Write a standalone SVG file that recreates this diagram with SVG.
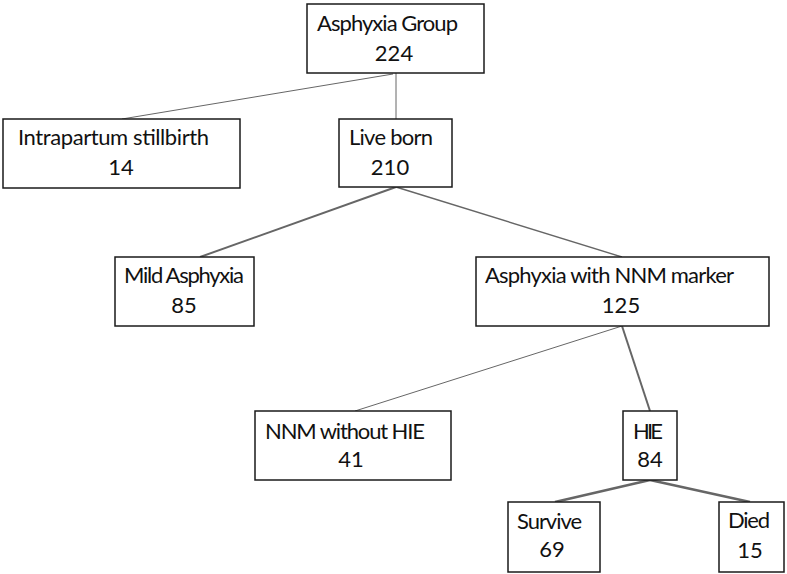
<svg xmlns="http://www.w3.org/2000/svg" width="787" height="574" viewBox="0 0 787 574">
<style>
.box{fill:#ffffff;stroke:#1a1a1a;stroke-width:1.5}
.t{font-family:Lato,"Liberation Sans",sans-serif;font-size:22px;fill:#111}
.c{text-anchor:middle}
.ln{stroke:#666;fill:none}
</style>
<rect width="787" height="574" fill="#ffffff"/>
<g id="connectors">
<line class="ln" x1="393" y1="74" x2="122" y2="119" stroke-width="1"/>
<line class="ln" x1="396" y1="73" x2="396" y2="119" stroke-width="1" stroke="#999"/>
<line class="ln" x1="396" y1="187" x2="200" y2="257" stroke-width="2"/>
<line class="ln" x1="396" y1="187" x2="622" y2="257" stroke-width="1.4"/>
<line class="ln" x1="622" y1="326" x2="355" y2="411" stroke-width="1"/>
<line class="ln" x1="622" y1="326" x2="650" y2="411" stroke-width="2"/>
<line class="ln" x1="650" y1="480" x2="555" y2="502" stroke-width="2.5"/>
<line class="ln" x1="650" y1="480" x2="750" y2="502" stroke-width="2.5"/>
</g>
<g id="asphyxia-group">
<rect class="box" x="307" y="4" width="177" height="69"/>
<text class="t" x="317" y="31" textLength="141">Asphyxia Group</text>
<text class="t c" x="394" y="61">224</text>
</g>
<g id="intrapartum-stillbirth">
<rect class="box" x="3" y="119" width="237" height="69"/>
<text class="t" x="18" y="145" textLength="191">Intrapartum stillbirth</text>
<text class="t c" x="121" y="175">14</text>
</g>
<g id="live-born">
<rect class="box" x="339" y="119" width="113" height="68"/>
<text class="t" x="349" y="145" textLength="84">Live born</text>
<text class="t c" x="390" y="175">210</text>
</g>
<g id="mild-asphyxia">
<rect class="box" x="115" y="257" width="139" height="69"/>
<text class="t" x="124" y="283" textLength="120">Mild Asphyxia</text>
<text class="t c" x="184" y="313">85</text>
</g>
<g id="asphyxia-nnm">
<rect class="box" x="476" y="257" width="293" height="69"/>
<text class="t" x="485" y="283" textLength="249">Asphyxia with NNM marker</text>
<text class="t c" x="621" y="313">125</text>
</g>
<g id="nnm-without-hie">
<rect class="box" x="255" y="411" width="196" height="69"/>
<text class="t" x="265" y="439" textLength="160">NNM without HIE</text>
<text class="t c" x="351" y="467">41</text>
</g>
<g id="hie">
<rect class="box" x="623" y="411" width="54" height="69"/>
<text class="t" x="633" y="439" textLength="30">HIE</text>
<text class="t c" x="650" y="467">84</text>
</g>
<g id="survive">
<rect class="box" x="508" y="502" width="92" height="70"/>
<text class="t" x="517" y="529" textLength="65">Survive</text>
<text class="t c" x="552" y="557">69</text>
</g>
<g id="died">
<rect class="box" x="719" y="502" width="65" height="70"/>
<text class="t" x="728" y="528" textLength="42">Died</text>
<text class="t c" x="750" y="558">15</text>
</g>
</svg>
